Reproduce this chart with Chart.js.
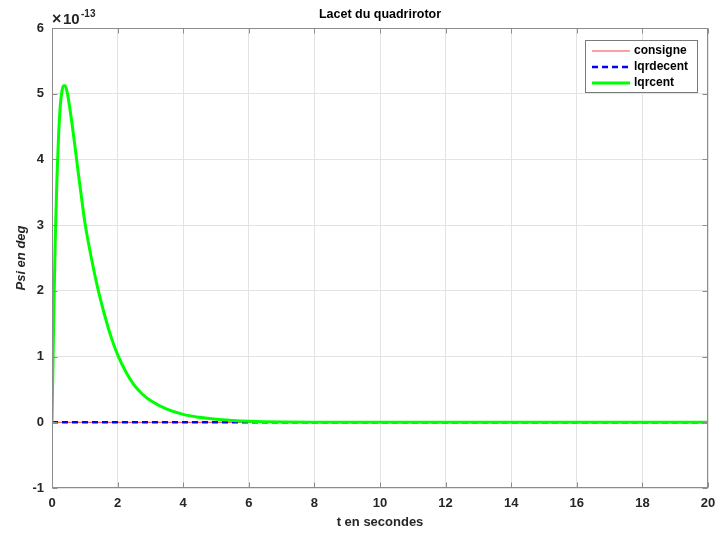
<!DOCTYPE html>
<html>
<head>
<meta charset="utf-8">
<script src="https://cdn.jsdelivr.net/npm/chart.js@4.4.1/dist/chart.umd.min.js"></script>
<style>
  html, body { margin: 0; padding: 0; background: #fff; }
</style>
</head>
<body>
<canvas id="psiChart" width="719" height="535"></canvas>
<script>
// yaw (psi) response, values in units of 1e-13 deg

const tRef = [0, 20];
const psiConsigne = [0, 0];
const psiLqrdecent = [0, 0];

const tLqrcent = [0, 0.03, 0.06, 0.1, 0.15, 0.2, 0.25, 0.3, 0.35, 0.4, 0.45, 0.5, 0.6, 0.7, 0.8, 0.9,
  1.0, 1.2, 1.4, 1.6, 1.8, 2.0, 2.25, 2.5, 2.75, 3.0, 3.5, 4.0, 4.5, 5.0, 5.5, 6.0, 7.0, 8.0, 9.0, 10, 20];
const psiLqrcent = [0, 0.9, 1.8, 2.8, 3.7, 4.35, 4.8, 5.03, 5.12, 5.12, 5.05, 4.92, 4.58, 4.2, 3.8, 3.42,
  3.05, 2.5, 2.03, 1.64, 1.3, 1.03, 0.77, 0.57, 0.43, 0.33, 0.2, 0.12, 0.075, 0.045, 0.028, 0.017, 0.006, 0.002, 0.001, 0, 0];

const xTicks = [0, 2, 4, 6, 8, 10, 12, 14, 16, 18, 20];
const yTicks = [-1, 0, 1, 2, 3, 4, 5, 6];

const FONT = '"Liberation Sans", Arial, sans-serif';
Chart.defaults.font.family = FONT;

function toPoints(xs, ys) {
  return xs.map((x, i) => ({ x: x, y: ys[i] }));
}

// MATLAB-like box, inward ticks, exponent and legend
const matlabDecor = {
  id: 'matlabDecor',
  afterDraw(chart) {
    const { ctx, chartArea: a, scales: { x, y } } = chart;
    const L = Math.round(a.left) + 0.5, R = Math.round(a.right) - 0.5;
    const T = Math.round(a.top) + 0.5, B = Math.round(a.bottom) - 0.5;
    ctx.save();
    ctx.strokeStyle = '#8c8c8c';
    ctx.lineWidth = 1;
    ctx.strokeRect(L, T, R - L, B - T);

    ctx.beginPath();
    xTicks.forEach(v => {
      const px = Math.round(x.getPixelForValue(v)) + 0.5;
      ctx.moveTo(px, B); ctx.lineTo(px, B - 5);
      ctx.moveTo(px, T); ctx.lineTo(px, T + 5);
    });
    yTicks.forEach(v => {
      const py = Math.round(y.getPixelForValue(v)) + 0.5;
      ctx.moveTo(L, py); ctx.lineTo(L + 5, py);
      ctx.moveTo(R, py); ctx.lineTo(R - 5, py);
    });
    ctx.stroke();

    // x10^-13 multiplier
    ctx.fillStyle = '#262626';
    ctx.textBaseline = 'alphabetic';
    ctx.textAlign = 'left';
    ctx.font = 'bold 16px ' + FONT;
    ctx.fillText('\u00d7', a.left, a.top - 4);
    ctx.font = 'bold 15px ' + FONT;
    ctx.fillText('10', a.left + 11, a.top - 4);
    ctx.font = 'bold 10px ' + FONT;
    ctx.fillText('-13', a.left + 29, a.top - 11);

    // legend
    const bx = 585, by = 40, bw = 112, bh = 52;
    ctx.fillStyle = '#fff';
    ctx.fillRect(bx, by, bw, bh);
    ctx.strokeStyle = '#7a7a7a';
    ctx.strokeRect(bx + 0.5, by + 0.5, bw, bh);
    chart.data.datasets.forEach((ds, i) => {
      const ly = by + 11 + i * 16;
      ctx.beginPath();
      ctx.strokeStyle = ds.borderColor;
      ctx.lineWidth = ds.borderWidth;
      ctx.setLineDash(ds.borderDash || []);
      ctx.moveTo(bx + 7, ly); ctx.lineTo(bx + 45, ly);
      ctx.stroke();
      ctx.setLineDash([]);
      ctx.fillStyle = '#000';
      ctx.font = 'bold 12px ' + FONT;
      ctx.textBaseline = 'middle';
      ctx.fillText(ds.label, bx + 49, ly);
    });
    ctx.restore();
  }
};

new Chart(document.getElementById('psiChart'), {
  type: 'line',
  data: {
    datasets: [
      {
        label: 'consigne',
        data: toPoints(tRef, psiConsigne),
        borderColor: '#ff4040',
        borderWidth: 1,
        order: 2
      },
      {
        label: 'lqrdecent',
        data: toPoints(tRef, psiLqrdecent),
        borderColor: '#0000ff',
        borderWidth: 2.5,
        borderDash: [6, 4],
        order: 1
      },
      {
        label: 'lqrcent',
        data: toPoints(tLqrcent, psiLqrcent),
        borderColor: '#00ff00',
        borderWidth: 3,
        cubicInterpolationMode: 'monotone',
        order: 0
      }
    ]
  },
  options: {
    responsive: false,
    animation: false,
    devicePixelRatio: 1,
    layout: { padding: { top: 0, right: 11, bottom: 0, left: 0 } },
    elements: { point: { radius: 0 } },
    plugins: {
      legend: { display: false },
      tooltip: { enabled: false },
      title: {
        display: true,
        text: 'Lacet du quadrirotor',
        fullSize: false,
        color: '#000',
        font: { size: 12.5, weight: 'bold' },
        padding: { top: 7, bottom: 6 }
      }
    },
    scales: {
      x: {
        type: 'linear',
        min: 0,
        max: 20,
        afterFit: s => { s.height = 47; s.paddingLeft = 0; s.paddingRight = 0; },
        afterBuildTicks: s => { s.ticks = xTicks.map(v => ({ value: v })); },
        border: { display: false },
        grid: { color: '#e3e3e3', drawTicks: false },
        ticks: { color: '#262626', padding: 8, font: { size: 13, weight: 'bold' }, maxRotation: 0 },
        title: {
          display: true,
          text: 't en secondes',
          color: '#262626',
          font: { size: 13, weight: 'bold' },
          padding: { top: 0, bottom: 5 }
        }
      },
      y: {
        type: 'linear',
        min: -1,
        max: 6,
        afterFit: s => { s.width = 52; },
        afterBuildTicks: s => { s.ticks = yTicks.map(v => ({ value: v })); },
        border: { display: false },
        grid: { color: '#e3e3e3', drawTicks: false },
        ticks: { color: '#262626', padding: 8, font: { size: 13, weight: 'bold' } },
        title: {
          display: true,
          text: 'Psi en deg',
          color: '#262626',
          font: { size: 13, weight: 'bold', style: 'italic' },
          padding: { top: 14, bottom: 0 }
        }
      }
    }
  },
  plugins: [matlabDecor]
});
</script>
</body>
</html>
